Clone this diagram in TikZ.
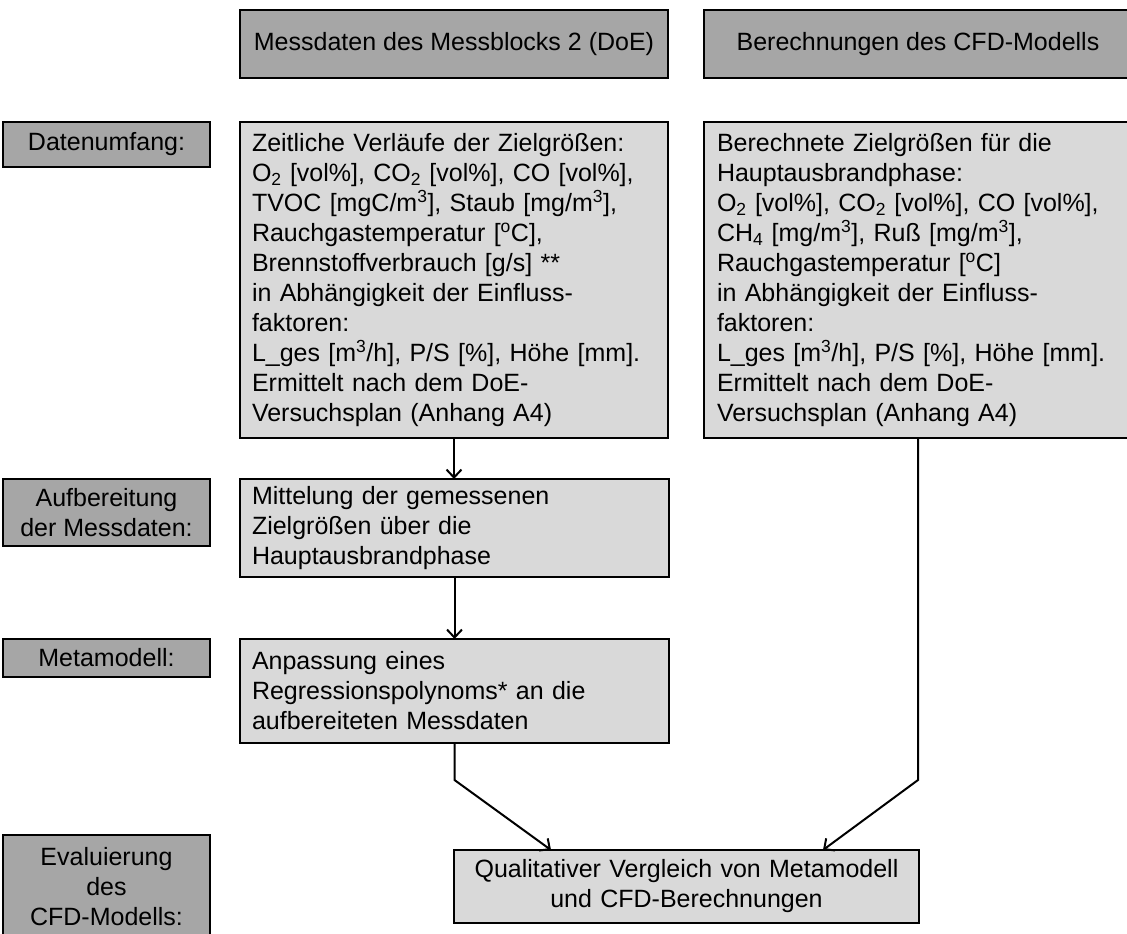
\documentclass[tikz,border=0pt]{standalone}
\usepackage{fontspec}
\setmainfont{Liberation Sans}
\usetikzlibrary{arrows.meta, positioning}
\definecolor{HeadGray}{HTML}{A6A6A6}
\definecolor{BoxGray}{HTML}{D9D9D9}

\begin{document}
\begin{tikzpicture}[x=1bp, y=-1bp,
    every node/.style={draw=black, line width=2bp, inner sep=0pt, outer sep=0pt,
        font=\fontsize{25bp}{30bp}\selectfont, anchor=north west},
    head/.style={fill=HeadGray, minimum width=428bp, minimum height=68bp},
    lbl/.style={fill=HeadGray, minimum width=207bp, align=center},
    cbox/.style={fill=BoxGray, align=left, inner xsep=12bp},
    flow/.style={line width=2bp, -{Straight Barb[length=8bp, width=15bp]}}]

    \clip (0,0) rectangle (1127,934);

    % Column heads
    \node[head] (hmess) at (240,10) {Messdaten des Messblocks 2 (DoE)};
    \node[head] (hcfd) at (704,10) {Berechnungen des CFD-Modells};

    % Step labels on the left
    \node[lbl, minimum height=45bp] (ldata) at (3,122) {Datenumfang:};
    \node[lbl, minimum height=67bp] (lprep) at (3,479) {Aufbereitung\\der Messdaten:};
    \node[lbl, minimum height=38bp] (lmeta) at (3,639) {Metamodell:};
    \node[lbl, minimum height=104bp] (leval) at (3,835) {Evaluierung\\des\\CFD-Modells:};

    % Measured data
    \node[cbox, text width=404bp, minimum height=316bp] (mess) at (240,122) {%
        Zeitliche Verläufe der Zielgrößen:\\
        O\textsubscript{2} [vol\%], CO\textsubscript{2} [vol\%], CO [vol\%],\\
        TVOC [mgC/m\textsuperscript{3}], Staub [mg/m\textsuperscript{3}],\\
        Rauchgastemperatur [\textsuperscript{o}C],\\
        Brennstoffverbrauch [g/s] **\\
        in Abhängigkeit der Einfluss-\\
        faktoren:\\
        L\_ges [m\textsuperscript{3}/h], P/S [\%], Höhe [mm].\\
        Ermittelt nach dem DoE-\\
        Versuchsplan (Anhang A4)};

    % CFD results
    \node[cbox, inner xsep=13bp, text width=402bp, minimum height=316bp] (cfd) at (704,122) {%
        Berechnete Zielgrößen für die\\
        Hauptausbrandphase:\\
        O\textsubscript{2} [vol\%], CO\textsubscript{2} [vol\%], CO [vol\%],\\
        CH\textsubscript{4} [mg/m\textsuperscript{3}], Ruß [mg/m\textsuperscript{3}],\\
        Rauchgastemperatur [\textsuperscript{o}C]\\
        in Abhängigkeit der Einfluss-\\
        faktoren:\\
        L\_ges [m\textsuperscript{3}/h], P/S [\%], Höhe [mm].\\
        Ermittelt nach dem DoE-\\
        Versuchsplan (Anhang A4)};

    \node[cbox, text width=405bp, minimum height=98bp] (mean) at (240,479) {%
        Mittelung der gemessenen\\
        Zielgrößen über die\\
        Hauptausbrandphase};

    \node[cbox, text width=405bp, minimum height=104bp] (fit) at (240,639) {%
        Anpassung eines\\
        Regressionspolynoms* an die\\
        aufbereiteten Messdaten};

    % Comparison
    \node[cbox, align=center, text width=441bp, minimum height=73bp] (cmp) at (454,850) {%
        Qualitativer Vergleich von Metamodell\\
        und CFD-Berechnungen};

    % Connectors
    \draw[flow] (mess.south) -- (mess.south |- mean.north);
    \draw[flow] (mean.south) -- (mean.south |- fit.north);
    \draw[flow] (fit.south) -- ++(0,37) -- ([xshift=97bp]cmp.north west);
    \draw[flow] (cfd.south) -- ++(0,342) -- ([xshift=-96bp]cmp.north east);
\end{tikzpicture}
\end{document}
